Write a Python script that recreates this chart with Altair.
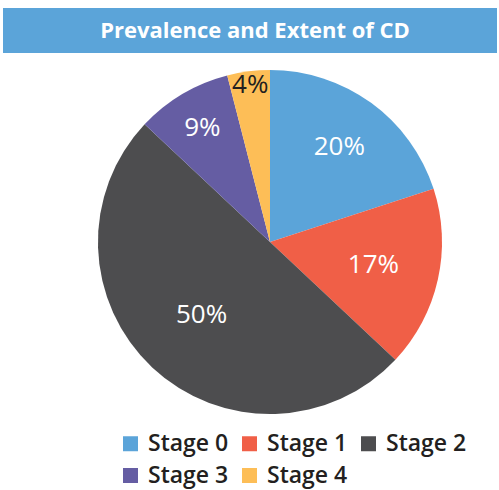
import altair as alt
import pandas as pd

# Share of patients by coronary disease stage (percent)
stages = ["Stage 0", "Stage 1", "Stage 2", "Stage 3", "Stage 4"]
shares = [20, 17, 50, 9, 4]

title_text = "Prevalence and Extent of CD"

# Styling
palette = ["#5BA4D9", "#F05F47", "#4D4D4F", "#655DA3", "#FDBE57"]
label_radius = [118, 106, 100, 133, 158]  # pixel distance of each % label from the centre
FONT = "Open Sans"
TEXT_DARK = "#231F20"
PIE_RADIUS = 172

# Plot area: pie is centred in the view; padding shifts it to the right
PAD_LEFT = 41
W, H = 458, 484

df = pd.DataFrame({
    "stage": stages,
    "share": shares,
    "order": list(range(len(stages))),
    "label": [f"{s}%" for s in shares],
    "lr": label_radius,
})

pie = alt.Chart(df).mark_arc(outerRadius=PIE_RADIUS).encode(
    theta=alt.Theta("share:Q", stack=True),
    order=alt.Order("order:Q"),
    color=alt.Color(
        "stage:N",
        scale=alt.Scale(domain=stages, range=palette),
        legend=alt.Legend(
            title=None,
            orient="none",
            legendX=78,
            legendY=432,
            direction="horizontal",
            columns=3,
            symbolType="square",
            symbolSize=225,
            symbolStrokeWidth=0,
            labelFont=FONT,
            labelFontSize=23,
            labelFontWeight=600,
            labelColor=TEXT_DARK,
            labelOffset=6,
            columnPadding=9,
            rowPadding=8,
        ),
    ),
)

# Percent labels placed at the angular middle of each slice
labels = alt.Chart(df).transform_window(
    cum="sum(share)", sort=[alt.SortField("order")]
).transform_calculate(
    mid="datum.cum - datum.share / 2"
).mark_text(font=FONT, fontSize=26).encode(
    theta=alt.Theta("mid:Q", stack=None),
    radius=alt.Radius("lr:Q", scale=None),
    text="label:N",
    color=alt.condition(alt.datum.stage == "Stage 4", alt.value(TEXT_DARK), alt.value("white")),
)

# Header band with the chart title
head_df = pd.DataFrame({"title": [title_text]})
header_band = alt.Chart(head_df).mark_rect(color="#5BA4D9").encode(
    x=alt.value(3 - PAD_LEFT), x2=alt.value(497 - PAD_LEFT),
    y=alt.value(8), y2=alt.value(53),
)
header_text = alt.Chart(head_df).mark_text(
    font=FONT, fontSize=22, fontWeight="bold", color="white"
).encode(
    x=alt.value(255 - PAD_LEFT), y=alt.value(31), text="title:N"
)

chart = alt.layer(header_band, header_text, pie, labels).properties(
    width=W,
    height=H,
    padding={"left": PAD_LEFT, "top": 0, "right": 0, "bottom": 6},
    autosize=alt.AutoSizeParams(type="none"),
    background="white",
).configure_view(stroke=None)

chart.save("out.html", embed_options={"renderer": "svg", "actions": False})
